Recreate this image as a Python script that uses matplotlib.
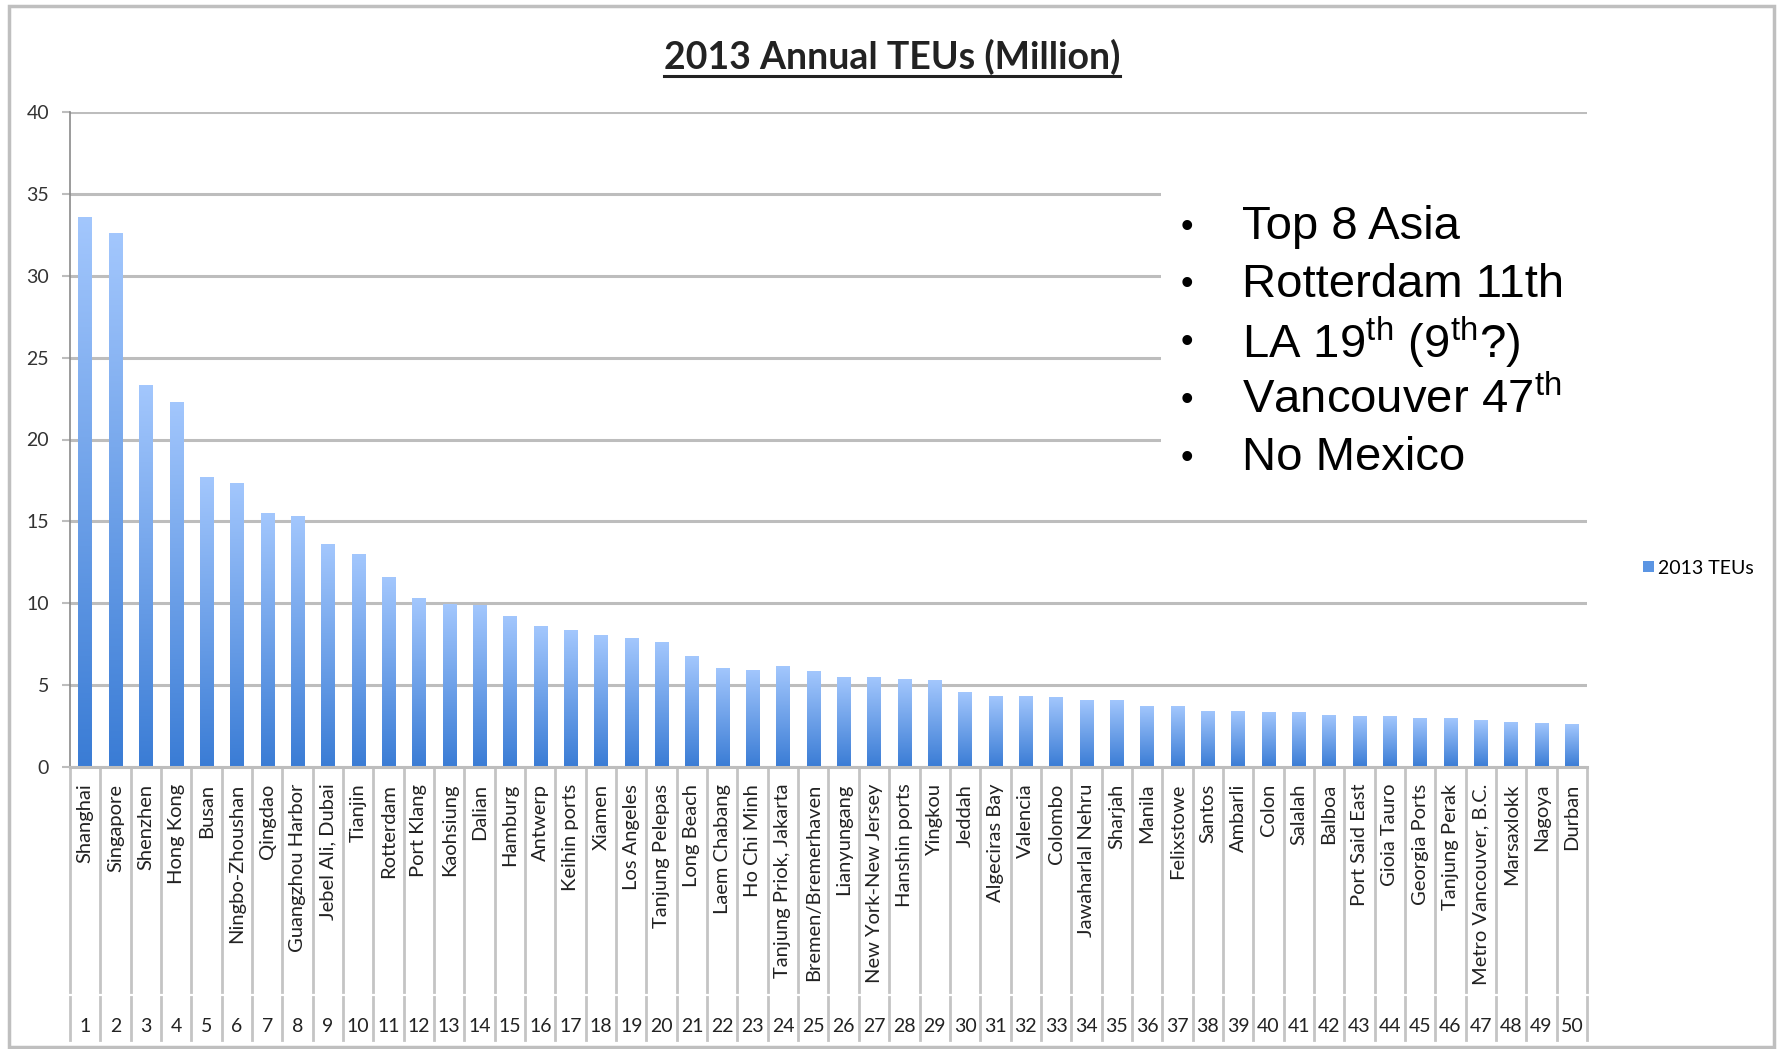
import numpy as np
import matplotlib
matplotlib.use("Agg")
import matplotlib.pyplot as plt
from matplotlib.colors import LinearSegmentedColormap
from matplotlib.patches import Rectangle
from matplotlib.transforms import blended_transform_factory

ports = ["Shanghai", "Singapore", "Shenzhen", "Hong Kong", "Busan", "Ningbo-Zhoushan",
         "Qingdao", "Guangzhou Harbor", "Jebel Ali, Dubai", "Tianjin", "Rotterdam",
         "Port Klang", "Kaohsiung", "Dalian", "Hamburg", "Antwerp", "Keihin ports",
         "Xiamen", "Los Angeles", "Tanjung Pelepas", "Long Beach", "Laem Chabang",
         "Ho Chi Minh", "Tanjung Priok, Jakarta", "Bremen/Bremerhaven", "Lianyungang",
         "New York-New Jersey", "Hanshin ports", "Yingkou", "Jeddah", "Algeciras Bay",
         "Valencia", "Colombo", "Jawaharlal Nehru", "Sharjah", "Manila", "Felixstowe",
         "Santos", "Ambarli", "Colon", "Salalah", "Balboa", "Port Said East",
         "Gioia Tauro", "Georgia Ports", "Tanjung Perak", "Metro Vancouver, B.C.",
         "Marsaxlokk", "Nagoya", "Durban"]
ranks = [str(i) for i in range(1, 51)]
teus = [33.6, 32.6, 23.3, 22.3, 17.7, 17.35, 15.5, 15.3, 13.6, 13.0,
        11.6, 10.3, 9.95, 9.9, 9.25, 8.6, 8.35, 8.05, 7.85, 7.65,
        6.75, 6.05, 5.95, 6.15, 5.85, 5.5, 5.5, 5.35, 5.3, 4.55,
        4.35, 4.35, 4.3, 4.1, 4.1, 3.75, 3.7, 3.42, 3.4, 3.38,
        3.34, 3.2, 3.12, 3.1, 3.0, 2.98, 2.85, 2.75, 2.7, 2.62]
notes = ["Top 8 Asia", "Rotterdam 11th", r"LA 19$^{\rm th}$ (9$^{\rm th}$?)",
         r"Vancouver 47$^{\rm th}$", "No Mexico"]

plt.rcParams["font.family"] = ["Lato", "DejaVu Sans"]
plt.rcParams["mathtext.fontset"] = "custom"
plt.rcParams["mathtext.rm"] = "Liberation Sans"

W, H = 1781, 1049
fig = plt.figure(figsize=(W / 100, H / 100), dpi=100)
ax = fig.add_axes([70 / W, 1 - 767 / H, (1587 - 70) / W, (767 - 112) / H])

x = np.arange(len(ports))
bars = ax.bar(x, teus, width=0.44, color="#5b95e3", label="2013 TEUs", zorder=2)

# gradient fill in each bar
cmap = LinearSegmentedColormap.from_list("teu", ["#3a7cd5", "#a3c7fd"])
grad = np.linspace(0, 1, 256).reshape(-1, 1)
for b in bars:
    x0, y0 = b.get_xy()
    im = ax.imshow(grad, extent=[x0, x0 + b.get_width(), y0, y0 + b.get_height()],
                   origin="lower", cmap=cmap, aspect="auto", zorder=2.1)
    im.set_clip_path(b)

ax.set_xlim(-0.5, len(ports) - 0.5)
ax.set_ylim(0, 40)
ax.set_yticks(range(0, 41, 5))
ax.yaxis.grid(True, color="#bdbdbd", lw=2.2, zorder=0)
ax.set_axisbelow(True)
for s in ["top", "right"]:
    ax.spines[s].set_visible(False)
ax.spines["left"].set_color("#8a8a8a")
ax.spines["left"].set_linewidth(1.2)
ax.spines["bottom"].set_color("#bdbdbd")
ax.spines["bottom"].set_linewidth(2.2)
ax.tick_params(axis="y", length=6, color="#bdbdbd", width=1.5, pad=9,
               labelsize=14, labelcolor="#333333")
ax.set_xticks(x)
ax.set_xticklabels(ports, rotation=90, fontsize=14.5, color="#222222")
ax.tick_params(axis="x", length=0, pad=12)

# category separators and rank row
tr = blended_transform_factory(ax.transData, fig.transFigure)
for i in range(len(ports) + 1):
    ax.plot([i - 0.5, i - 0.5], [1 - 767 / H, 1 - 992 / H], color="#c4c4c4", lw=2,
            transform=tr, clip_on=False)
    ax.plot([i - 0.5, i - 0.5], [1 - 997 / H, 1 - 1040 / H], color="#c4c4c4", lw=2,
            transform=tr, clip_on=False)
for i, r in enumerate(ranks):
    ax.text(i, 1 - 1027 / H, r, transform=tr, ha="center", va="center",
            fontsize=14, color="#222222")

ax.legend(loc="center left", bbox_to_anchor=(1626 / W, 1 - 568 / H),
          bbox_transform=fig.transFigure, frameon=False, fontsize=14,
          handlelength=0.55, handleheight=0.55, handletextpad=0.2)

# title with underline
title = fig.text(892 / W, 1 - 57 / H, "2013 Annual TEUs (Million)", ha="center",
                 va="center", fontsize=27, fontweight="bold", color="#222222")
fig.canvas.draw()
bb = title.get_window_extent().transformed(fig.transFigure.inverted())
fig.add_artist(plt.Line2D([bb.x0, bb.x1], [bb.y0 - 0.001, bb.y0 - 0.001],
                          transform=fig.transFigure, color="#222222", lw=2.2))

# white note box over the gridlines
fig.add_artist(Rectangle((1161 / W, 1 - 500 / H), 440 / W, 370 / H,
                         transform=fig.transFigure, facecolor="white",
                         edgecolor="none", zorder=1))
for k, line in enumerate(notes):
    yy = 1 - (227 + 57.8 * k) / H
    fig.text(1181 / W, yy, "\u2022", ha="left", va="center", fontsize=26,
             family="Liberation Sans", zorder=3)
    fig.text(1242 / W, yy, line, ha="left", va="center", fontsize=34,
             family="Liberation Sans", zorder=3)

# outer frame
fig.add_artist(Rectangle((9 / W, 1 - 1047 / H), 1765 / W, 1041 / H,
                         transform=fig.transFigure, fill=False,
                         edgecolor="#bfbfbf", lw=2.5))

fig.savefig("out.png", dpi=100)
